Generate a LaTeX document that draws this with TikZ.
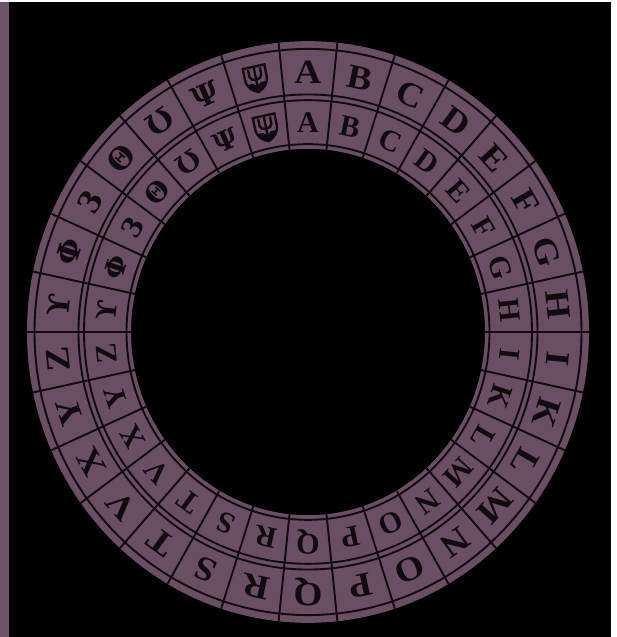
\documentclass[tikz,border=0pt]{standalone}
\usepackage{fontspec}
\setmainfont{Liberation Serif}
\newfontfamily\symfont{DejaVu Serif}
\definecolor{wheel}{RGB}{106,79,100}
\definecolor{strip}{RGB}{110,84,104}
\definecolor{ink}{RGB}{18,10,16}
\newcommand{\wide}[1]{\scalebox{1.1}[1]{#1}}
\begin{document}
\begin{tikzpicture}[x=1pt,y=1pt,
  ringline/.style={draw=ink,line width=1.9pt},
  glyph/.style={font=\fontsize{34}{34}\selectfont\bfseries, text=ink, inner sep=0pt, anchor=center},
  innerglyph/.style={font=\fontsize{30}{30}\selectfont\bfseries, text=ink, inner sep=0pt, anchor=center},
  symglyph/.style={font=\fontsize{30}{30}\selectfont\symfont\bfseries, text=ink, inner sep=0pt, anchor=center},
  innersym/.style={font=\fontsize{27}{27}\selectfont\symfont\bfseries, text=ink, inner sep=0pt, anchor=center}]
\useasboundingbox (0,0) rectangle (617,637);
\fill[white] (0,0) rectangle (617,637);
\fill[black] (0,0) rectangle (611,635);
\fill[strip] (0,0) rectangle (8.5,635);
\begin{scope}[shift={(308,305)}, yscale=1.035]
  \fill[wheel,even odd rule] (0,0) circle (281) (0,0) circle (177);
  \draw[ringline] (0,0) circle (273.5);
  \draw[ringline] (0,0) circle (229.5);
  \draw[ringline] (0,0) circle (224);
  \draw[ringline] (0,0) circle (181.5);
  \foreach \k in {0,...,29} {
    \draw[ringline] ({84-12*\k}:177) -- ({84-12*\k}:281);
  }
  \foreach \ch [count=\i from 0] in {A,B,C,D,E,F,G,H,I,K,L,M,N,O,P,Q,R,S,T,V,X,Y,Z} {
    \node[glyph, rotate={-12*\i}] (o\i) at ({90-12*\i}:251) {\wide{\ch}};
    \node[innerglyph, rotate={-12*\i}] (n\i) at ({90-12*\i}:202.5) {\ch};
  }
  \foreach \ch [count=\i from 23] in {ϒ,Φ,3,Θ,Ʊ,Ψ} {
    \node[symglyph, rotate={-12*\i}] (o\i) at ({90-12*\i}:251) {\ch};
    \node[innersym, rotate={-12*\i}] (n\i) at ({90-12*\i}:202.5) {\ch};
  }
  \foreach \r in {251,202.5} {
    \begin{scope}[shift={(102:\r)}, rotate=12]
      \draw[ink, line width=2.4pt, fill=wheel] (-11,11) -- (11,11) -- (11,0)
        .. controls (11,-8) and (5,-12) .. (0,-14)
        .. controls (-5,-12) and (-11,-8) .. (-11,0) -- cycle;
      \draw[ink, line width=2.4pt] (0,10) -- (0,-12);
      \draw[ink, line width=2.4pt] (-6,9) -- (-6,2) .. controls (-6,-3) and (6,-3) .. (6,2) -- (6,9);
      \fill[ink] (-4,-5) .. controls (-2,-8) and (2,-8) .. (4,-5) -- (9,-5) .. controls (8,-10) and (3,-12) .. (0,-13) .. controls (-3,-12) and (-8,-10) .. (-9,-5) -- cycle;
    \end{scope}
  }
\end{scope}
\end{tikzpicture}
\end{document}
